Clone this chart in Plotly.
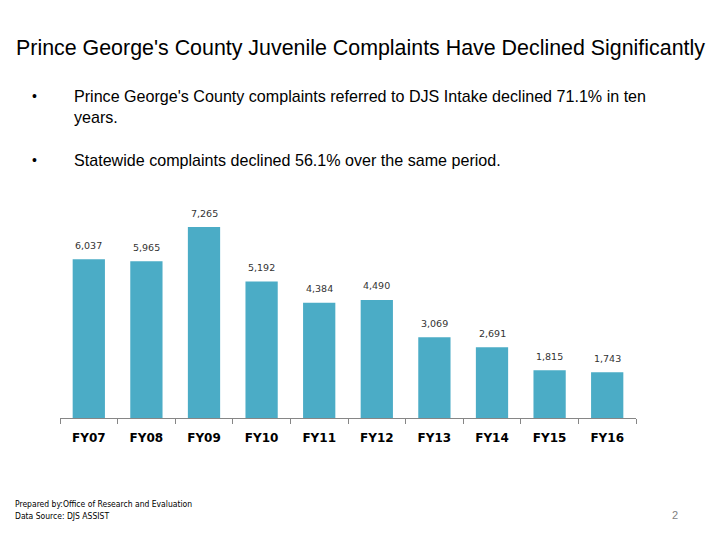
import plotly.graph_objects as go

categories = ["FY07", "FY08", "FY09", "FY10", "FY11", "FY12", "FY13", "FY14", "FY15", "FY16"]
complaints = [6037, 5965, 7265, 5192, 4384, 4490, 3069, 2691, 1815, 1743]
value_labels = ["6,037", "5,965", "7,265", "5,192", "4,384", "4,490", "3,069", "2,691", "1,815", "1,743"]

title_text = "Prince George's County Juvenile Complaints Have Declined Significantly"
bullet1 = "Prince George's County complaints referred to DJS Intake declined 71.1% in ten<br>years."
bullet2 = "Statewide complaints declined 56.1% over the same period."
footer1 = "Prepared by:Office of Research and Evaluation"
footer2 = "Data Source: DJS ASSIST"
page_no = "2"

W, H = 720, 540

fig = go.Figure()
fig.add_trace(go.Bar(
    x=categories, y=complaints, marker=dict(color="#4BACC6", line=dict(width=0)),
    width=0.56, hoverinfo="skip", showlegend=False,
))

for c, v, lab in zip(categories, complaints, value_labels):
    fig.add_annotation(x=c, y=v, xref="x", yref="y", text=lab, showarrow=False,
                       yshift=14, font=dict(family="DejaVu Sans", size=9.5, color="#333333"))

extra = [
    dict(x=14, y=48, text=title_text, size=21.4, color="#000000", fam="Liberation Sans"),
    dict(x=30, y=96, text="•", size=14, color="#000000", fam="Liberation Sans"),
    dict(x=72, y=106, text=bullet1, size=16.1, color="#000000", fam="Liberation Sans"),
    dict(x=30, y=160, text="•", size=14, color="#000000", fam="Liberation Sans"),
    dict(x=72, y=160, text=bullet2, size=16.1, color="#000000", fam="Liberation Sans"),
    dict(x=13, y=504, text=footer1, size=8.5, color="#000000", fam="DejaVu Sans Condensed"),
    dict(x=13, y=516, text=footer2, size=8.5, color="#000000", fam="DejaVu Sans Condensed"),
    dict(x=670, y=515, text=page_no, size=11, color="#7f7f7f", fam="Liberation Sans"),
]
for e in extra:
    fig.add_annotation(x=e["x"] / W, y=1 - e["y"] / H, xref="paper", yref="paper", text=e["text"],
                       showarrow=False, xanchor="left", yanchor="middle", align="left",
                       font=dict(family=e["fam"], size=e["size"], color=e["color"]))

fig.update_layout(
    width=W, height=H,
    margin=dict(l=0, r=0, t=0, b=0),
    paper_bgcolor="white", plot_bgcolor="white",
)
# plot area: x 60..636 px, y 200..418 px
fig.update_xaxes(domain=[60 / W, 636 / W], showline=True, linecolor="#868686", linewidth=1,
                 ticks="outside", tickson="boundaries", ticklen=5, tickcolor="#868686",
                 ticklabelstandoff=9,
                 tickfont=dict(family="DejaVu Sans", size=12, color="#000000", weight="bold"),
                 showgrid=False, fixedrange=True)
y_top_px, y_base_px = 200, 418
fig.update_yaxes(domain=[1 - y_base_px / H, 1 - y_top_px / H],
                 range=[0, 7265 * (y_base_px - y_top_px) / (y_base_px - 227)],
                 visible=False, showgrid=False, fixedrange=True)

fig.write_html("out.html", config={"displayModeBar": False},
               post_script="document.body.style.margin='0';")
